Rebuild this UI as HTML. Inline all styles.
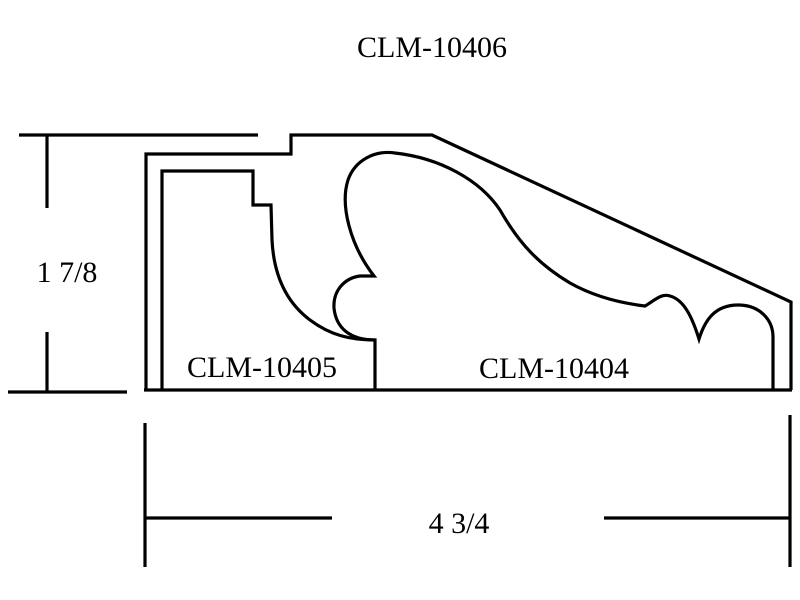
<!DOCTYPE html>
<html><head><style>body{margin:0;background:#fff}svg{display:block}</style></head><body>
<svg width="800" height="600" viewBox="0 0 800 600" xmlns="http://www.w3.org/2000/svg">
<rect width="800" height="600" fill="#fff"/>
<g stroke="#000" stroke-width="3.2" fill="none" stroke-linejoin="miter">
<line x1="19" y1="135" x2="258" y2="135"/>
<line x1="47" y1="135" x2="47" y2="208"/>
<line x1="47" y1="332" x2="47" y2="392"/>
<line x1="8" y1="392" x2="127" y2="392"/>
<path d="M146,390 L146,154 L291,154 L291,135 L432,135 L791,302 L791,390"/>
<line x1="144" y1="390" x2="792" y2="390"/>
<path d="M162,390 L162,171 L253,171 L253,205 L271,205 L272,240 C274,280 290,305 310,320 C330,335 350,340 375,340 L375,390"/>
<path d="M375,340 C350,340 336,328 334,308 C333,290 345,278 360,276 L374,276 C350,245 340,205 348,180 C355,160 375,150 395,153 C440,158 480,180 500,210 C520,245 540,265 570,283 C595,297 620,303 645,306 C655,300 662,293 670,296 C685,300 693,320 699,339 C705,320 715,305 738,305 C760,305 773,320 773,337 L773,390"/>
<line x1="145" y1="423" x2="145" y2="567"/>
<line x1="790" y1="415" x2="790" y2="567"/>
<line x1="145" y1="518" x2="332" y2="518"/>
<line x1="604" y1="518" x2="790" y2="518"/>
</g>
<g font-family="Liberation Serif, serif" fill="#000" font-size="30" text-anchor="middle">
<text x="432" y="57">CLM-10406</text>
<text x="67" y="282">1 7/8</text>
<text x="262" y="377">CLM-10405</text>
<text x="554" y="378">CLM-10404</text>
<text x="459" y="533">4 3/4</text>
</g>
</svg>
</body></html>
